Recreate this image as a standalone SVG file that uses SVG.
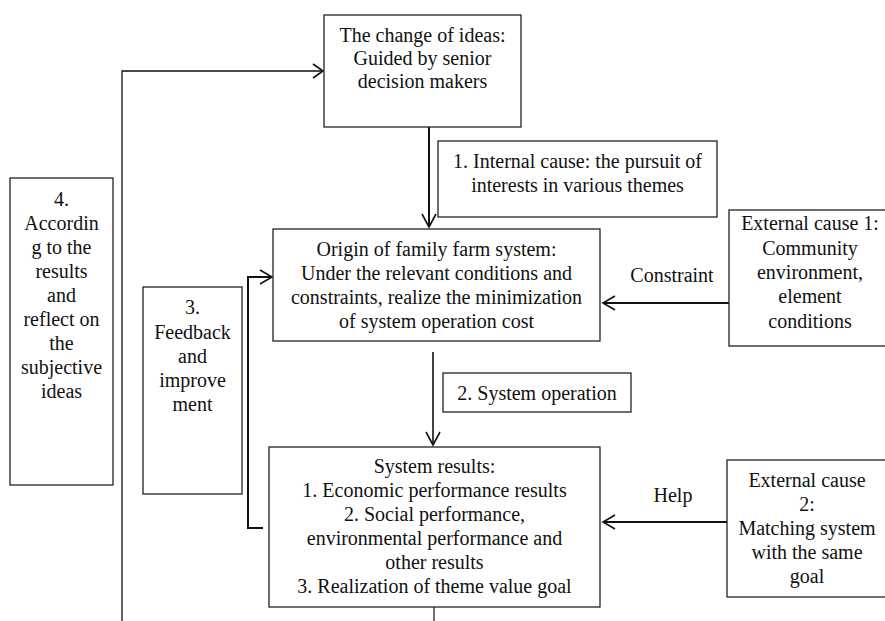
<svg xmlns="http://www.w3.org/2000/svg" width="885" height="621" viewBox="0 0 885 621">
<defs>
<style>
.box{fill:#fff;stroke:#222;stroke-width:1.3}
.t{text-anchor:middle;fill:#111}
.ln{fill:none;stroke:#111}
.ah{fill:none;stroke:#111;stroke-width:1.6}
</style>
</defs>
<rect width="885" height="621" fill="#fff"/>
<g font-family="'Liberation Serif', serif" font-size="20">
<g id="connectors">
<polyline class="ln" stroke-width="1.3" points="122,621 122,71 323,71"/>
<polyline class="ah" points="313,64 323,71 313,78"/>
<line class="ln" stroke-width="2" x1="429" y1="127" x2="429" y2="226"/>
<polyline class="ah" points="422,214 429,227 436,214"/>
<polyline class="ln" stroke-width="2" points="263,528 248,528 248,277 271,277"/>
<polyline class="ah" points="260,270 272,277 260,284"/>
<line class="ln" stroke-width="1.6" x1="433" y1="352" x2="433" y2="444"/>
<polyline class="ah" points="426,432 433,445 440,432"/>
<line class="ln" stroke-width="2" x1="729" y1="303" x2="603" y2="303"/>
<polyline class="ah" points="615,296 603,303 615,310"/>
<text class="t" x="672" y="282">Constraint</text>
<line class="ln" stroke-width="2" x1="727" y1="522" x2="603" y2="522"/>
<polyline class="ah" points="615,515 603,522 615,529"/>
<text class="t" x="673" y="502">Help</text>
<line class="ln" stroke-width="1.2" x1="434" y1="584" x2="434" y2="621"/>
</g>
<g id="top">
<rect class="box" x="324" y="15" width="197" height="112"/>
<text class="t" x="422.5" y="42">The change of ideas:</text>
<text class="t" x="422.5" y="65">Guided by senior</text>
<text class="t" x="422.5" y="88">decision makers</text>
</g>
<g id="internal">
<rect class="box" x="438" y="141" width="279" height="76"/>
<text class="t" x="577.5" y="168">1. Internal cause: the pursuit of</text>
<text class="t" x="577.5" y="192">interests in various themes</text>
</g>
<g id="origin">
<rect class="box" x="273" y="229" width="327" height="112"/>
<text class="t" x="436.5" y="256">Origin of family farm system:</text>
<text class="t" x="436.5" y="280">Under the relevant conditions and</text>
<text class="t" x="436.5" y="304">constraints, realize the minimization</text>
<text class="t" x="436.5" y="328">of system operation cost</text>
</g>
<g id="ext1">
<rect class="box" x="729" y="210" width="165" height="136"/>
<text class="t" x="810" y="230">External cause 1:</text>
<text class="t" x="810" y="255">Community</text>
<text class="t" x="810" y="279">environment,</text>
<text class="t" x="810" y="303">element</text>
<text class="t" x="810" y="328">conditions</text>
</g>
<g id="sysop">
<rect class="box" x="443" y="373" width="188" height="39"/>
<text class="t" x="537" y="400">2. System operation</text>
</g>
<g id="results">
<rect class="box" x="269" y="447" width="331" height="160"/>
<text class="t" x="434.5" y="473">System results:</text>
<text class="t" x="434.5" y="497">1. Economic performance results</text>
<text class="t" x="434.5" y="521">2. Social performance,</text>
<text class="t" x="434.5" y="545">environmental performance and</text>
<text class="t" x="434.5" y="569">other results</text>
<text class="t" x="434.5" y="593">3. Realization of theme value goal</text>
</g>
<g id="ext2">
<rect class="box" x="727" y="460" width="167" height="137"/>
<text class="t" x="807" y="487">External cause</text>
<text class="t" x="807" y="511">2:</text>
<text class="t" x="807" y="535">Matching system</text>
<text class="t" x="807" y="559">with the same</text>
<text class="t" x="807" y="583">goal</text>
</g>
<g id="box4">
<rect class="box" x="10" y="178" width="103" height="307"/>
<text class="t" x="61.5" y="206">4.</text>
<text class="t" x="61.5" y="230">Accordin</text>
<text class="t" x="61.5" y="254">g to the</text>
<text class="t" x="61.5" y="278">results</text>
<text class="t" x="61.5" y="302">and</text>
<text class="t" x="61.5" y="326">reflect on</text>
<text class="t" x="61.5" y="350">the</text>
<text class="t" x="61.5" y="374">subjective</text>
<text class="t" x="61.5" y="398">ideas</text>
</g>
<g id="box3">
<rect class="box" x="143" y="287" width="99" height="207"/>
<text class="t" x="192.5" y="314">3.</text>
<text class="t" x="192.5" y="339">Feedback</text>
<text class="t" x="192.5" y="363">and</text>
<text class="t" x="192.5" y="387">improve</text>
<text class="t" x="192.5" y="411">ment</text>
</g>
</g>
</svg>
